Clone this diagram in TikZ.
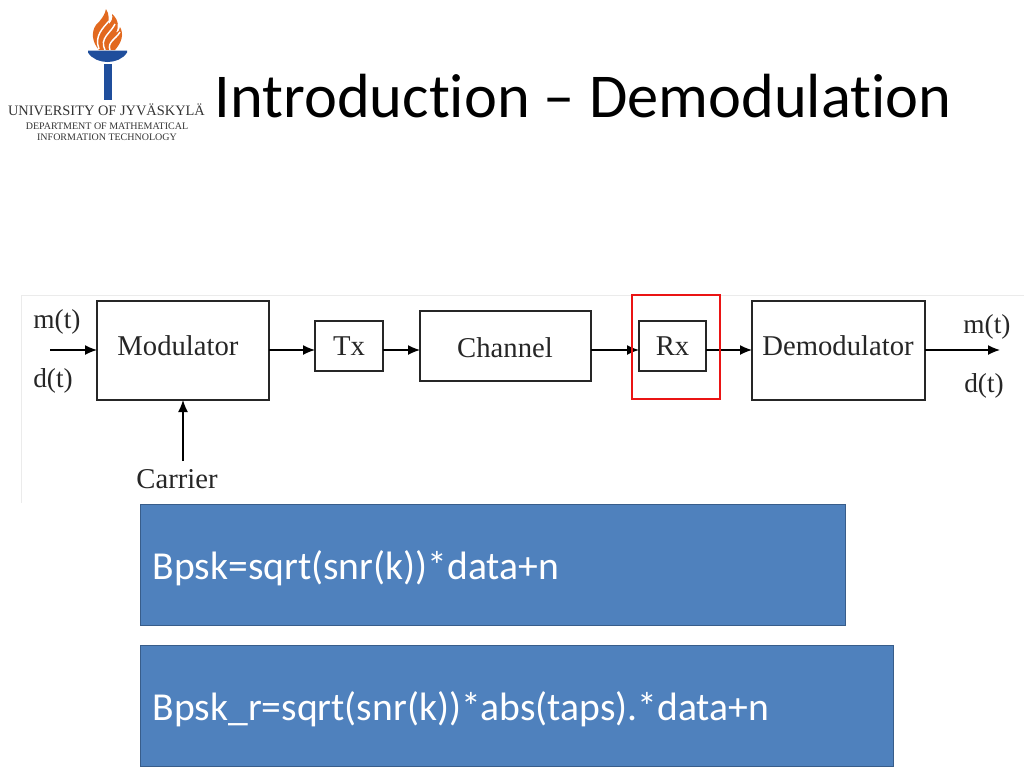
\documentclass[tikz,border=0pt]{standalone}
\usepackage{fontspec}
\setmainfont{Liberation Serif}
\newfontfamily\slidefont[Ligatures=NoCommon]{Carlito}
\usetikzlibrary{positioning,arrows.meta}
\definecolor{slideblue}{HTML}{4F81BD}
\definecolor{slideedge}{HTML}{385D8A}
\definecolor{torchblue}{HTML}{1F4E9C}
\definecolor{flame}{HTML}{E2691F}
\definecolor{markred}{HTML}{EA1414}
\tikzset{
    block/.style={
        draw=black!85,
        line width=1pt,
        outer sep=0pt,
        inner sep=0pt,
    },
    blocktext/.style={
        font=\fontsize{21.5}{21.5}\selectfont,
        text=black!85,
        inner sep=0pt,
    },
    signal/.style={
        font=\fontsize{20.5}{20.5}\selectfont,
        text=black!85,
        inner sep=0pt,
    },
    bluebox/.style={
        draw=slideedge,
        line width=0.75pt,
        fill=slideblue,
        outer sep=0pt,
        inner sep=0pt,
    },
    boxtext/.style={
        text=white,
        font=\slidefont\fontsize{29.7}{29.7}\selectfont,
        inner sep=0pt,
        anchor=west,
    },
}

\begin{document}
\begin{tikzpicture}[x=0.75pt,y=-0.75pt,>={Latex[length=9pt,width=7.5pt]},line width=1pt]
    \useasboundingbox (0,0) rectangle (1024,768);
    % logo
    \fill[flame] (106,9) .. controls (110,15) and (108,20) .. (109,24) .. controls (112,21) and (113,18) .. (112,14) .. controls (119,20) and (119,27) .. (116,33) .. controls (118,32) and (120,30) .. (120,27) .. controls (124,34) and (122,42) .. (115,50) -- (99,50) .. controls (92,42) and (91,32) .. (96,25) .. controls (101,20) and (105,15) .. (106,9) -- cycle;
    \draw[white,line width=1.1pt] (99,49) .. controls (94,36) and (103,28) .. (109,21);
    \draw[white,line width=1.1pt] (105,50) .. controls (99,38) and (111,33) .. (115,24);
    \draw[white,line width=1.1pt] (110,50) .. controls (107,42) and (116,39) .. (120,32);
    \fill[torchblue] (88,50.5) -- (127,50.5) -- (127,52.5) .. controls (123,59) and (115,62) .. (107.5,62) .. controls (100,62) and (92,59) .. (88,52.5) -- cycle;
    \fill[torchblue] (104,64) rectangle (112,100);
    \node[font=\fontsize{10.8}{10.8}\selectfont,text=black!80,inner sep=0pt] (univ) at (106.5,110) {UNIVERSITY OF JYVÄSKYLÄ};
    \node[font=\fontsize{7.5}{8.6}\selectfont,text=black!80,inner sep=0pt,align=center] (dept) at (107,131.5) {DEPARTMENT OF MATHEMATICAL\\INFORMATION TECHNOLOGY};
    % title
    \node[font=\slidefont\fontsize{46.8}{46.8}\selectfont,inner sep=0pt,anchor=west] (title) at (214,96) {Introduction – Demodulation};
    % edge of the pasted figure
    \draw[black!8,line width=0.75pt] (21,503) -- (21,295) -- (1024,295);
    % blocks
    \node[block,minimum width=129pt,minimum height=74.25pt] (Modulator) at (183,350.5) {};
    \node[block,minimum width=51pt,minimum height=37.5pt,right=34.5pt of Modulator.east,yshift=3.4pt] (Tx) {};
    \node[block,minimum width=128.25pt,minimum height=52.5pt,right=27.75pt of Tx] (Channel) {};
    \node[block,minimum width=50.25pt,minimum height=37.5pt] (Rx) at (672.5,346) {};
    \node[block,minimum width=129.75pt,minimum height=74.25pt] (Demodulator) at (838.5,350.5) {};
    \node[blocktext] (Modtext) at (178,346) {Modulator};
    \node[blocktext] (Txtext) at (Tx) {Tx};
    \node[blocktext] (Chantext) at (505,348) {Channel};
    \node[blocktext] (Rxtext) at (Rx) {Rx};
    \node[blocktext] (Demodtext) at (838,346) {Demodulator};
    % signals
    \node[signal] (m-in) at (57,322) {m(t)};
    \node[signal] (d-in) at (53,381) {d(t)};
    \node[signal] (m-out) at (987,327) {m(t)};
    \node[signal] (d-out) at (984,386) {d(t)};
    \node[blocktext] (Carrier) at (177,479) {Carrier};
    \coordinate (in) at (50,350);
    \coordinate (out) at (1000,350);
    \coordinate (carrier-top) at (183,461);
    % arrows
    \draw[->] (in) -- (Modulator.west |- in);
    \draw[->] (Modulator.east |- in) -- (Tx.west |- in);
    \draw[->] (Tx.east |- in) -- (Channel.west |- in);
    \draw[->] (Channel.east |- in) -- (Rx.west |- in);
    \draw[->] (Rx.east |- in) -- (Demodulator.west |- in);
    \draw[->] (Demodulator.east |- in) -- (out);
    \draw[->] (carrier-top) -- (carrier-top |- Modulator.south);
    % highlight
    \node[draw=markred,line width=2.2pt,minimum width=66pt,minimum height=78pt,outer sep=0pt] (RxMark) at (676,347) {};
    % equations
    \node[bluebox,minimum width=529pt,minimum height=91pt] (Bpsk) at (493,565) {};
    \node[boxtext] (Bpsktext) at (152,568) {Bpsk=sqrt(snr(k))*data+n};
    \node[bluebox,minimum width=564.75pt,minimum height=91pt] (BpskR) at (516.5,706) {};
    \node[boxtext] (BpskRtext) at (152,709) {Bpsk\_r=sqrt(snr(k))*abs(taps).*data+n};
\end{tikzpicture}
\end{document}
